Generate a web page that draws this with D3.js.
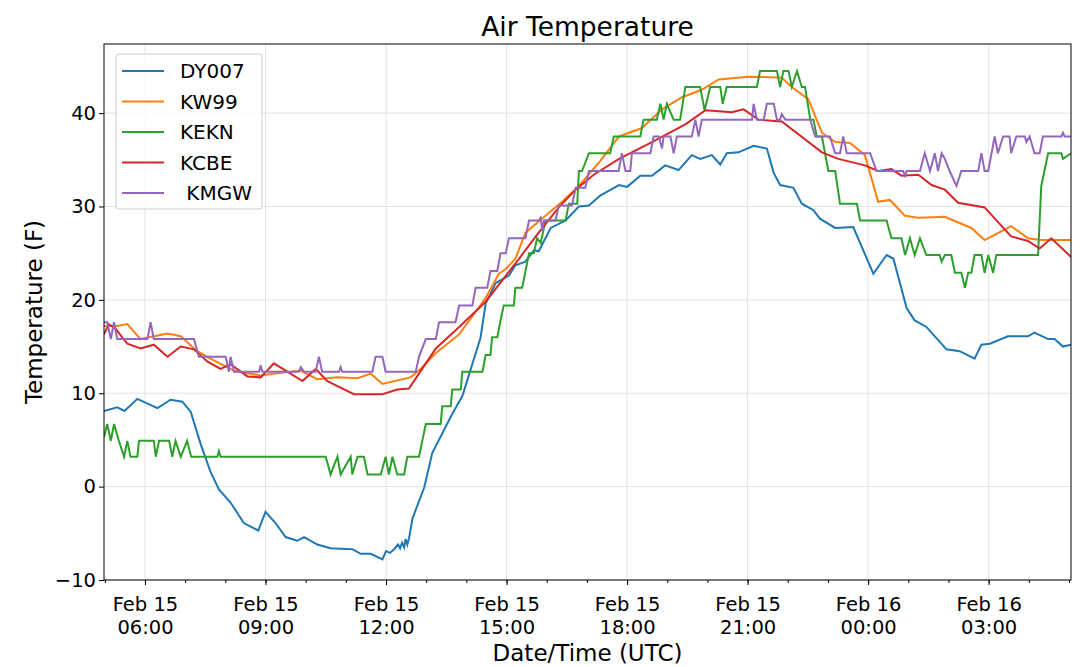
<!DOCTYPE html>
<html><head><meta charset="utf-8">
<script src="https://cdn.jsdelivr.net/npm/d3@7"></script>
<style>body{margin:0;background:#fff}text{font-family:"DejaVu Sans",sans-serif}</style>
</head><body><svg id="c" width="1080" height="667"></svg>
<script>
// hours since Feb 15 00:00 UTC, temperature (F)
var seriesNames = ["DY007", "KW99", "KEKN", "KCBE", " KMGW"];
var colors = ["#1f77b4", "#ff7f0e", "#2ca02c", "#d62728", "#9467bd"];

var dy007 = [[4.98,8.1],[5.31,8.5],[5.49,8.1],[5.81,9.4],[6.31,8.4],[6.64,9.3],[6.93,9.1],[7.14,8.0],[7.39,4.5],[7.63,1.6],[7.84,-0.3],[8.13,-1.7],[8.46,-3.9],[8.82,-4.7],[9.0,-2.7],[9.25,-3.9],[9.5,-5.4],[9.79,-5.8],[9.96,-5.4],[10.29,-6.2],[10.62,-6.6],[11.16,-6.7],[11.37,-7.2],[11.62,-7.2],[11.91,-7.8],[12.0,-6.9],[12.1,-7.1],[12.2,-6.7],[12.3,-6.2],[12.35,-6.6],[12.4,-6.0],[12.45,-6.5],[12.49,-5.6],[12.53,-6.2],[12.57,-5.6],[12.66,-3.4],[12.95,-0.1],[13.15,3.6],[13.65,7.8],[13.9,9.7],[14.35,15.9],[14.48,19.6],[14.73,21.8],[15.06,22.6],[15.22,23.7],[15.47,24.1],[15.68,25.3],[15.8,25.2],[16.1,27.7],[16.47,28.5],[16.8,30.0],[17.05,30.1],[17.34,31.2],[17.8,32.3],[18.0,32.1],[18.33,33.3],[18.62,33.3],[18.95,34.4],[19.28,33.9],[19.61,35.5],[19.82,35.1],[20.11,35.5],[20.32,34.5],[20.48,35.7],[20.77,35.8],[21.15,36.5],[21.48,36.2],[21.65,33.6],[21.81,32.3],[22.14,32.0],[22.35,30.3],[22.64,29.6],[22.8,28.7],[23.18,27.7],[23.63,27.8],[24.13,22.8],[24.46,24.8],[24.63,24.4],[24.96,19.1],[25.16,17.8],[25.45,17.1],[25.95,14.7],[26.28,14.5],[26.65,13.7],[26.82,15.2],[27.03,15.3],[27.48,16.1],[27.98,16.1],[28.14,16.5],[28.48,15.8],[28.64,15.8],[28.85,15.0],[29.05,15.2]];
var kw99 = [[4.98,17.2],[5.31,17.2],[5.56,17.4],[5.89,15.8],[6.56,16.4],[6.89,16.1],[7.3,14.5],[7.63,13.7],[8.22,12.4],[8.88,11.9],[9.38,12.2],[9.88,12.4],[10.29,11.5],[10.79,11.7],[11.29,11.6],[11.62,12.1],[11.91,11.0],[12.2,11.3],[12.61,11.7],[12.86,12.6],[13.24,14.3],[13.82,16.3],[14.48,20.2],[14.81,22.8],[14.98,23.3],[15.22,24.4],[15.47,27.2],[15.97,29.0],[16.38,30.5],[16.8,32.2],[17.34,34.9],[17.8,37.5],[18.37,38.4],[18.87,40.4],[19.37,41.7],[19.86,42.5],[20.28,43.6],[21.02,43.9],[21.85,43.8],[22.1,42.8],[22.51,41.5],[22.85,37.9],[23.18,36.9],[23.55,36.8],[23.92,35.5],[24.25,30.5],[24.54,30.7],[24.92,29.0],[25.25,28.8],[25.91,28.9],[26.57,27.7],[26.9,26.4],[27.56,27.9],[27.98,26.6],[28.31,26.4],[29.05,26.4]];
var kekn = [[4.98,5.3],[5.06,6.7],[5.15,4.9],[5.23,6.7],[5.35,4.9],[5.48,3.2],[5.56,4.9],[5.64,3.2],[5.81,3.2],[5.85,4.9],[6.22,4.9],[6.27,3.2],[6.35,4.9],[6.6,4.9],[6.68,3.2],[6.76,4.9],[6.89,3.2],[7.05,4.9],[7.15,3.2],[7.8,3.2],[7.84,3.8],[7.88,3.2],[10.5,3.2],[10.62,1.3],[10.79,3.2],[10.87,1.3],[11.12,3.2],[11.16,1.3],[11.29,3.2],[11.45,3.2],[11.54,1.3],[11.87,1.3],[11.99,3.2],[12.07,1.3],[12.16,3.2],[12.28,1.3],[12.45,1.3],[12.53,3.2],[12.82,3.2],[12.99,6.7],[13.36,6.7],[13.4,8.6],[13.61,8.6],[13.65,10.4],[13.86,10.4],[13.9,12.3],[14.4,12.3],[14.48,14.1],[14.6,14.1],[14.64,16.0],[14.77,16.0],[14.85,17.8],[14.93,19.4],[15.18,19.4],[15.22,21.3],[15.39,21.3],[15.56,25.0],[15.68,25.0],[15.76,26.6],[15.85,26.1],[15.97,28.5],[16.47,28.5],[16.55,30.3],[16.76,30.3],[16.8,33.8],[16.88,33.8],[17.05,35.7],[17.58,35.7],[17.67,37.5],[18.33,37.5],[18.41,39.3],[18.74,39.3],[18.83,41.0],[18.91,39.3],[18.99,41.0],[19.16,39.3],[19.32,39.3],[19.45,42.8],[19.82,42.8],[19.93,40.3],[20.07,42.8],[20.32,42.8],[20.38,41.0],[20.48,42.8],[21.23,42.8],[21.31,44.5],[21.73,44.5],[21.81,42.8],[21.89,44.5],[22.02,44.5],[22.1,42.8],[22.23,44.5],[22.35,42.8],[22.43,42.8],[22.56,39.3],[22.64,39.3],[22.72,37.5],[22.85,37.5],[23.01,33.8],[23.18,33.8],[23.3,30.3],[23.72,30.3],[23.8,28.5],[24.46,28.5],[24.58,26.6],[24.83,26.6],[24.92,24.8],[25.04,26.6],[25.16,24.8],[25.29,26.6],[25.45,24.8],[25.78,24.8],[25.83,24.1],[25.91,24.8],[26.07,24.8],[26.16,22.9],[26.32,22.9],[26.41,21.3],[26.49,22.9],[26.57,22.9],[26.65,24.8],[26.82,24.8],[26.9,22.9],[26.99,24.8],[27.11,22.9],[27.19,24.8],[28.23,24.8],[28.31,32.2],[28.48,35.7],[28.81,35.7],[28.85,35.1],[29.05,35.7]];
var kcbe = [[4.98,16.3],[5.1,17.4],[5.27,16.9],[5.56,15.3],[5.89,14.8],[6.22,15.2],[6.56,13.9],[6.89,15.0],[7.22,14.7],[7.55,13.4],[7.88,12.6],[8.13,13.1],[8.55,11.8],[8.88,11.7],[9.21,13.2],[9.92,11.3],[10.25,12.6],[10.54,11.3],[11.2,9.9],[11.91,9.9],[12.28,10.4],[12.57,10.5],[12.82,12.1],[13.24,14.8],[13.82,17.1],[14.48,19.8],[15.31,24.4],[15.8,27.2],[16.3,29.9],[16.72,31.8],[17.17,33.4],[17.8,35.1],[18.62,36.9],[19.45,38.8],[19.95,40.3],[20.61,40.1],[20.9,40.4],[21.27,39.3],[21.85,39.1],[22.85,35.8],[23.26,35.1],[23.92,34.4],[24.25,33.8],[24.58,34.0],[24.83,33.3],[25.25,33.4],[25.58,32.3],[25.91,31.8],[26.24,30.4],[26.9,29.9],[27.56,26.8],[27.98,26.3],[28.27,25.5],[28.56,26.6],[29.05,24.6]];
var kmgw = [[4.98,17.6],[5.06,17.6],[5.15,15.8],[5.23,17.6],[5.31,15.8],[6.06,15.8],[6.14,17.6],[6.22,15.8],[7.22,15.8],[7.34,13.9],[8.01,13.9],[8.09,12.3],[8.13,13.9],[8.22,12.3],[8.84,12.3],[8.88,13.0],[8.92,12.3],[9.83,12.3],[9.88,12.8],[9.96,12.3],[10.25,12.3],[10.33,13.9],[10.41,12.3],[10.83,12.3],[10.87,12.8],[10.91,12.3],[11.66,12.3],[11.74,13.9],[11.91,13.9],[11.99,12.3],[12.74,12.3],[12.82,13.9],[12.99,15.8],[13.24,15.8],[13.32,17.6],[13.73,17.6],[13.82,19.4],[14.15,19.4],[14.23,21.3],[14.52,21.3],[14.6,23.1],[14.77,23.1],[14.85,25.0],[14.98,25.0],[15.06,26.6],[15.47,26.6],[15.56,28.5],[15.8,28.5],[15.85,28.8],[15.89,27.4],[15.93,28.5],[16.22,28.5],[16.3,30.1],[16.63,30.1],[16.72,32.0],[16.96,32.0],[17.05,33.8],[17.79,33.8],[17.87,35.7],[17.96,33.8],[18.08,33.8],[18.12,35.7],[18.58,35.7],[18.66,37.5],[18.79,37.5],[18.87,36.2],[18.91,37.5],[19.08,37.5],[19.16,35.7],[19.24,37.5],[19.61,37.5],[19.7,39.3],[19.78,37.5],[19.86,39.3],[21.11,39.3],[21.15,41.0],[21.23,39.3],[21.4,39.3],[21.48,41.0],[21.65,41.0],[21.73,39.3],[21.81,39.3],[21.85,39.9],[21.94,39.3],[22.56,39.3],[22.68,37.5],[23.05,37.5],[23.18,35.7],[23.3,35.7],[23.38,37.5],[23.47,35.7],[24.05,35.7],[24.21,33.8],[24.87,33.8],[24.92,33.3],[24.96,33.8],[25.29,33.8],[25.41,35.7],[25.54,33.8],[25.66,35.7],[25.74,33.8],[25.83,35.7],[25.91,35.1],[26.03,33.8],[26.2,32.2],[26.32,33.8],[26.74,33.8],[26.82,35.7],[26.9,33.8],[26.99,33.8],[27.15,37.5],[27.23,35.7],[27.36,37.5],[27.52,37.5],[27.56,35.7],[27.69,37.5],[27.9,37.5],[27.94,36.9],[28.02,37.5],[28.14,35.7],[28.27,35.7],[28.35,37.5],[28.81,37.5],[28.85,37.9],[28.89,37.5],[29.05,37.5]];
var allSeries = [dy007, kw99, kekn, kcbe, kmgw];

var yTicks = [-10, 0, 10, 20, 30, 40];
var xTicks = [6, 9, 12, 15, 18, 21, 24, 27];

var svg = d3.select("#c");
var pL = 104, pR = 1071, pT = 44, pB = 580;
var base = Date.UTC(2018, 1, 15);
var hr = function(h) { return new Date(base + h * 3600e3); };

var x = d3.scaleUtc().domain([hr(4.98), hr(29.05)]).range([pL, pR]);
var y = d3.scaleLinear().domain([-10.0, 47.4]).range([pB, pT]);

// grid
svg.append("g").selectAll("line").data(xTicks).join("line")
  .attr("x1", d => x(hr(d))).attr("x2", d => x(hr(d)))
  .attr("y1", pT).attr("y2", pB).attr("stroke", "#e3e3e3").attr("stroke-width", 1);
svg.append("g").selectAll("line").data(yTicks).join("line")
  .attr("x1", pL).attr("x2", pR)
  .attr("y1", d => y(d)).attr("y2", d => y(d)).attr("stroke", "#e3e3e3").attr("stroke-width", 1);

var line = d3.line().x(d => x(hr(d[0]))).y(d => y(d[1]));
svg.append("defs").append("clipPath").attr("id", "clip")
  .append("rect").attr("x", pL).attr("y", pT).attr("width", pR - pL).attr("height", pB - pT);
allSeries.forEach(function(s, i) {
  svg.append("path").datum(s).attr("d", line).attr("fill", "none")
    .attr("stroke", colors[i]).attr("stroke-width", 2).attr("clip-path", "url(#clip)");
});

// axes
var xAxis = svg.append("g").attr("transform", "translate(0," + pB + ")")
  .call(d3.axisBottom(x).tickValues(xTicks.map(hr)).tickSize(5).tickFormat(""));
xAxis.select(".domain").remove();
svg.append("g").attr("transform", "translate(0," + pB + ")")
  .call(d3.axisBottom(x).tickValues(d3.range(5, 30).map(hr)).tickSize(3).tickFormat(""))
  .select(".domain").remove();
xAxis.selectAll(".tick").each(function(d) {
  var g = d3.select(this);
  g.append("text").attr("y", 31).attr("fill", "#000").attr("font-size", 19.5).attr("text-anchor", "middle")
    .text(d3.utcFormat("%b %d")(d));
  g.append("text").attr("y", 54).attr("fill", "#000").attr("font-size", 19.5).attr("text-anchor", "middle")
    .text(d3.utcFormat("%H:%M")(d));
});
var yAxis = svg.append("g").attr("transform", "translate(" + pL + ",0)")
  .call(d3.axisLeft(y).tickValues(yTicks).tickSize(5).tickFormat(d => d < 0 ? "\u2212" + (-d) : d));
yAxis.select(".domain").remove();
yAxis.selectAll("text").attr("font-size", 19.5).attr("fill", "#000").attr("x", -8);
svg.selectAll(".tick line").attr("stroke", "#000");

svg.append("rect").attr("x", pL).attr("y", pT).attr("width", pR - pL).attr("height", pB - pT)
  .attr("fill", "none").attr("stroke", "#000").attr("stroke-width", 1);

// labels
svg.append("text").attr("x", (pL + pR) / 2).attr("y", 36).attr("text-anchor", "middle")
  .attr("font-size", 26.5).text("Air Temperature");
svg.append("text").attr("x", (pL + pR) / 2).attr("y", 661).attr("text-anchor", "middle")
  .attr("font-size", 23).text("Date/Time (UTC)");
svg.append("text").attr("transform", "translate(42," + ((pT + pB) / 2) + ") rotate(-90)")
  .attr("text-anchor", "middle").attr("font-size", 23).text("Temperature (F)");

// legend
var lg = svg.append("g");
lg.append("rect").attr("x", 116).attr("y", 54).attr("width", 146).attr("height", 155).attr("rx", 3)
  .attr("fill", "#fff").attr("fill-opacity", 0.8).attr("stroke", "#ccc");
seriesNames.forEach(function(n, i) {
  var yy = 71 + i * 30.5;
  lg.append("line").attr("x1", 122).attr("x2", 164).attr("y1", yy).attr("y2", yy)
    .attr("stroke", colors[i]).attr("stroke-width", 2);
  lg.append("text").attr("x", 180).attr("y", yy + 7).attr("font-size", 20)
    .style("white-space", "pre").text(n);
});
</script></body></html>
